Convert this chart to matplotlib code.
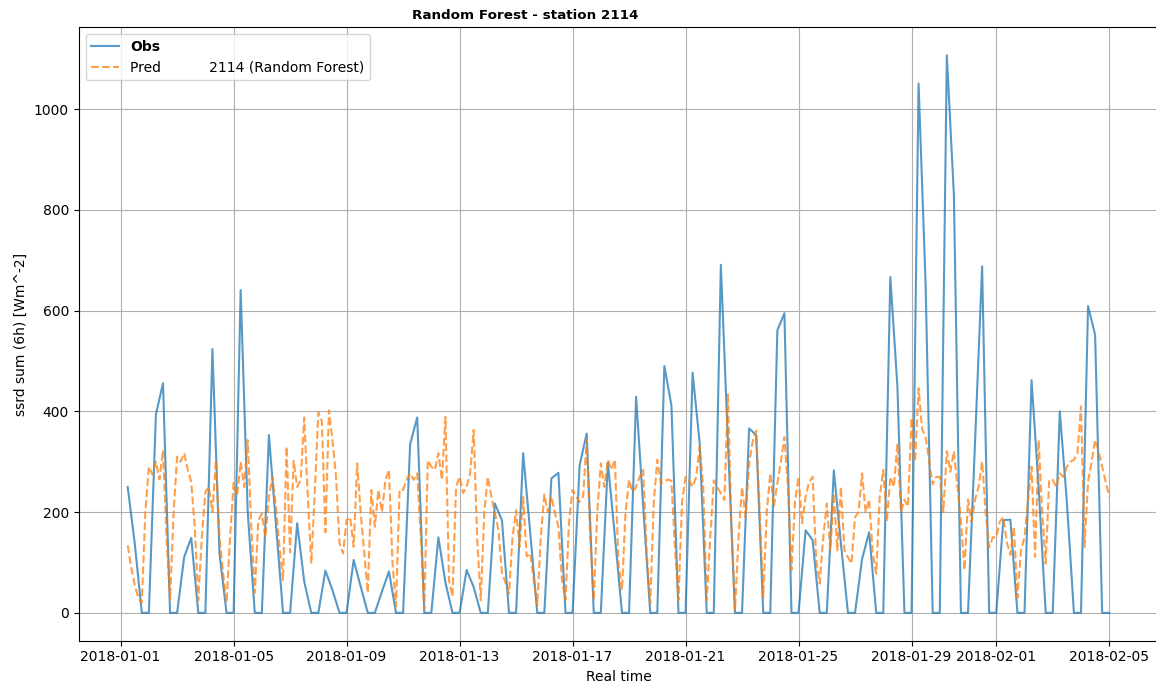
import matplotlib
matplotlib.use("Agg")
import matplotlib.pyplot as plt
import matplotlib.dates as mdates
import pandas as pd

STATION = 2114
MODEL = "Random Forest"

# 6-hourly observed ssrd sums (06, 12, 18, 00 UTC per day)
obs_values = [
    250, 138, 0, 0,   394, 456, 0, 0,   111, 149, 0, 0,   524, 118, 0, 0,
    641, 200, 0, 0,   353, 175, 0, 0,   178, 62, 0, 0,    84, 45, 0, 0,
    105, 52, 0, 0,    42, 82, 0, 0,     335, 388, 0, 0,   150, 60, 0, 0,
    85, 51, 0, 0,     217, 184, 0, 0,   317, 160, 0, 0,   267, 278, 0, 0,
    293, 356, 0, 0,   298, 151, 0, 0,   429, 212, 0, 0,   490, 412, 0, 0,
    477, 337, 0, 0,   691, 340, 0, 0,   366, 353, 0, 0,   561, 595, 0, 0,
    164, 144, 0, 0,   283, 138, 0, 0,   107, 160, 0, 0,   667, 450, 0, 0,
    1051, 650, 0, 0,  1107, 830, 0, 0,  340, 688, 0, 0,   184, 185, 0, 0,
    462, 250, 0, 0,   400, 220, 0, 0,   609, 552, 0, 0,
]

# 3-hourly model prediction, one row per day (00 ... 21 UTC)
pred_values = [
    134, 90, 55, 30, 20, 200,
    290, 275, 300, 265, 323, 150, 25, 200,
    310, 300, 317, 285, 260, 171, 25, 150,
    240, 250, 200, 303, 150, 80, 20, 150,
    258, 232, 300, 250, 343, 170, 40, 183,
    197, 150, 230, 270, 210, 130, 65, 330,
    120, 302, 250, 263, 388, 231, 98, 243,
    398, 380, 160, 402, 343, 271, 138, 118,
    184, 190, 131, 297, 198, 120, 40, 244,
    171, 244, 200, 264, 284, 100, 13, 244,
    244, 264, 277, 264, 277, 150, 8, 303,
    290, 284, 317, 264, 389, 65, 32, 250,
    270, 238, 251, 277, 363, 145, 25, 200,
    270, 231, 198, 165, 80, 60, 38, 150,
    204, 131, 230, 112, 118, 65, 15, 150,
    235, 200, 231, 198, 171, 65, 25, 180,
    244, 231, 220, 231, 344, 150, 25, 200,
    297, 250, 304, 284, 304, 98, 45, 200,
    264, 240, 250, 270, 284, 120, 18, 220,
    304, 257, 260, 265, 262, 130, 25, 220,
    270, 263, 250, 270, 330, 250, 25, 150,
    263, 250, 237, 224, 436, 170, 5, 150,
    250, 190, 296, 340, 362, 200, 31, 200,
    277, 210, 257, 300, 349, 250, 85, 220,
    270, 178, 230, 260, 270, 105, 58, 150,
    217, 124, 237, 124, 250, 124, 110, 98,
    190, 200, 277, 200, 225, 120, 78, 230,
    284, 181, 270, 250, 336, 200, 225, 211,
    387, 300, 446, 365, 350, 300, 255, 270,
    270, 200, 321, 280, 321, 250, 181, 85,
    225, 181, 225, 250, 300, 200, 130, 150,
    150, 181, 190, 140, 115, 171, 30, 124,
    150, 224, 290, 111, 343, 200, 98, 264,
    264, 250, 277, 270, 290, 300, 304, 317,
    410, 131, 260, 300, 343, 320, 290, 260,
    231,
]

obs_time = pd.date_range("2018-01-01 06:00", "2018-02-05 00:00", freq="6h")
pred_time = pd.date_range("2018-01-01 06:00", "2018-02-05 00:00", freq="3h")


def main():
    fig = plt.figure(figsize=(11.56, 6.86), dpi=100)
    ax = fig.add_axes([0.068, 0.066, 0.934, 0.894])

    ax.plot(obs_time, obs_values, color="C0", lw=1.5, alpha=0.75, label="Obs")
    ax.plot(pred_time, pred_values, color="C1", ls="--", lw=1.5, alpha=0.75,
            label=f"Pred           {STATION} ({MODEL})")

    ax.xaxis.set_major_locator(mdates.DayLocator(bymonthday=[1, 5, 9, 13, 17, 21, 25, 29]))
    ax.xaxis.set_major_formatter(mdates.DateFormatter("%Y-%m-%d"))
    ax.set_xlabel("Real time")
    ax.set_ylabel("ssrd sum (6h) [Wm^-2]")
    # title sits centred over the original (narrower) figure width
    ax.set_title(f"{MODEL} - station {STATION}", fontsize=9.7,
                 fontweight="bold", x=0.414)
    ax.grid(True)

    leg = ax.legend(loc="upper left")
    leg.get_texts()[0].set_fontweight("bold")

    fig.savefig("out.png", dpi=100)


if __name__ == "__main__":
    main()
